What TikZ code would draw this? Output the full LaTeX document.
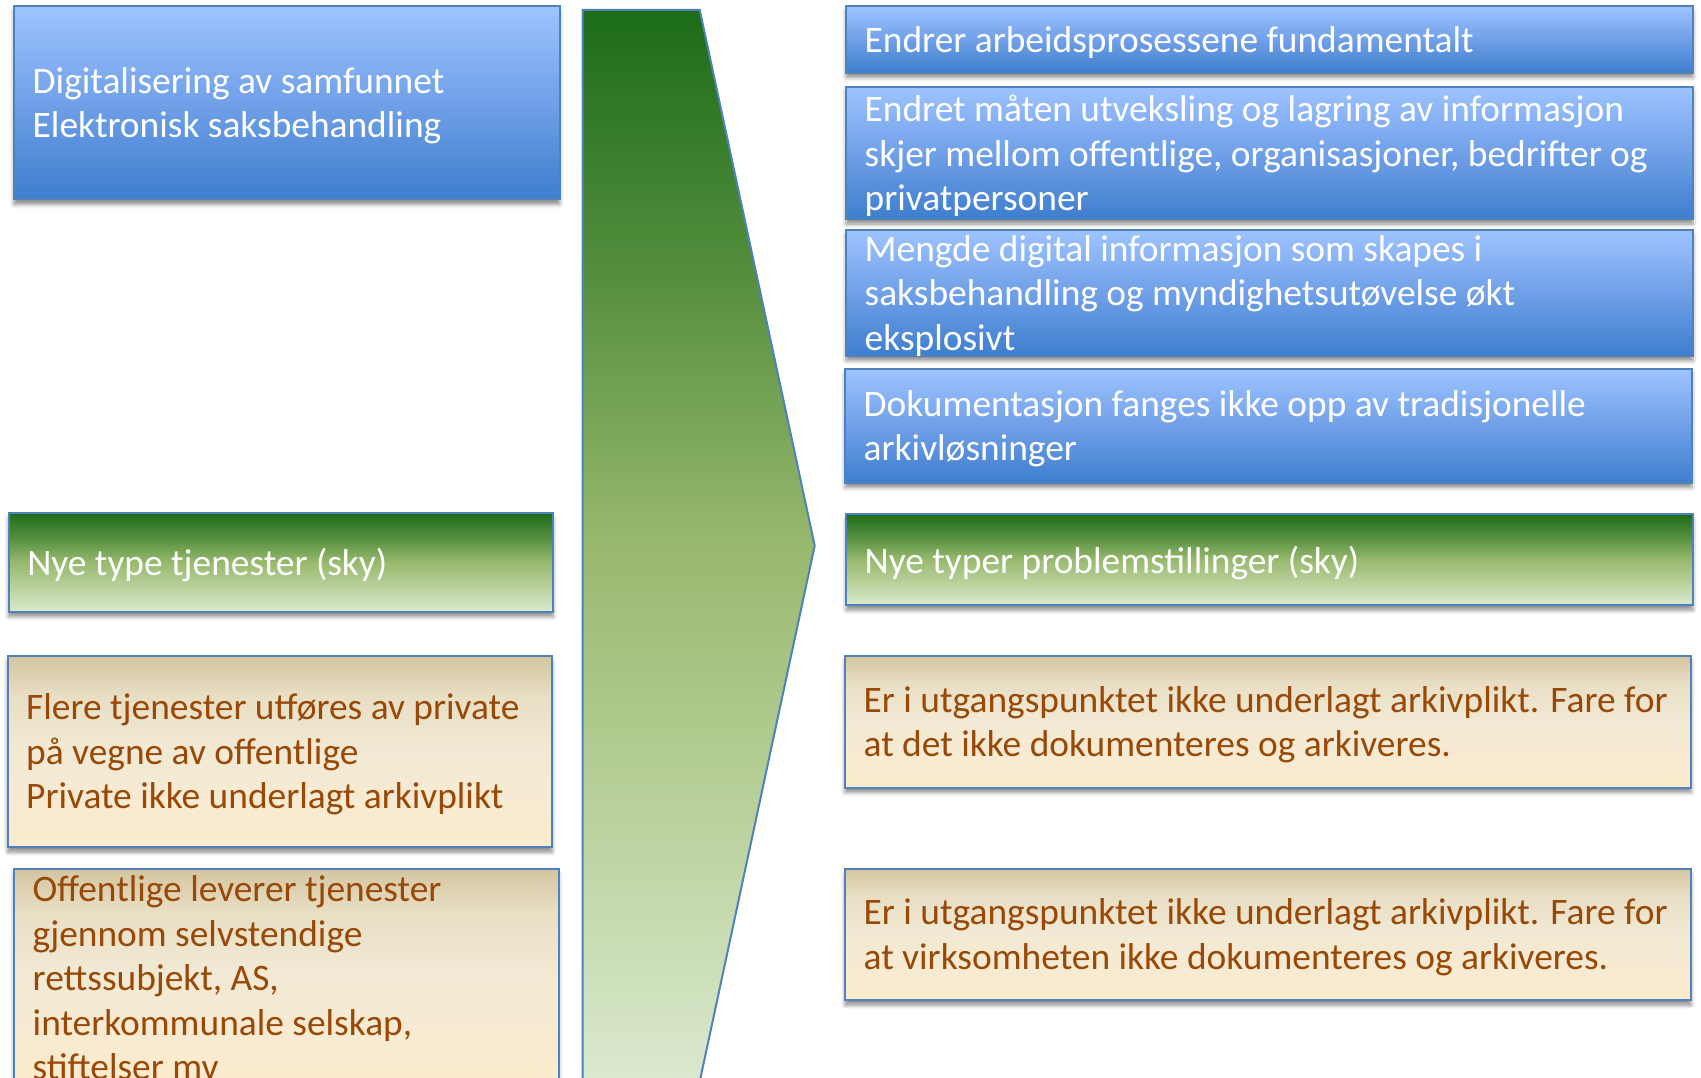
\documentclass[tikz,border=0pt]{standalone}
\usepackage{fontspec}
\setmainfont{Carlito}
\usetikzlibrary{shadows.blur}
\definecolor{edge}{RGB}{79,129,189}
\definecolor{bluetop}{RGB}{158,195,255}
\definecolor{bluemid}{RGB}{112,160,232}
\definecolor{bluebot}{RGB}{62,126,206}
\definecolor{gtop}{RGB}{28,108,24}
\definecolor{gq}{RGB}{85,143,62}
\definecolor{gmid}{RGB}{152,185,110}
\definecolor{g3q}{RGB}{186,209,156}
\definecolor{gbot}{RGB}{219,233,207}
\definecolor{ttop}{RGB}{212,197,160}
\definecolor{tq}{RGB}{232,222,196}
\definecolor{tmid}{RGB}{242,234,213}
\definecolor{tbot}{RGB}{252,235,206}
\definecolor{brown}{RGB}{152,72,7}
\pgfdeclareverticalshading{blueshade}{100bp}{color(0bp)=(bluebot); color(25bp)=(bluebot); color(50bp)=(bluemid); color(75bp)=(bluetop); color(100bp)=(bluetop)}
\pgfdeclareverticalshading{greenshade}{100bp}{color(0bp)=(gbot); color(25bp)=(gbot); color(37.5bp)=(g3q); color(50bp)=(gmid); color(62.5bp)=(gq); color(75bp)=(gtop); color(100bp)=(gtop)}
\pgfdeclareverticalshading{tanshade}{100bp}{color(0bp)=(tbot); color(25bp)=(tbot); color(50bp)=(tmid); color(65bp)=(tq); color(75bp)=(ttop); color(100bp)=(ttop)}
\tikzset{
  basebox/.style={draw=edge, line width=2pt, rectangle, anchor=north west, inner sep=0pt,
    blur shadow={shadow xshift=0pt, shadow yshift=-5pt, shadow blur radius=4pt, shadow opacity=45}},
  bluebox/.style={basebox, shading=blueshade},
  greenbox/.style={basebox, shading=greenshade},
  tanbox/.style={basebox, shading=tanshade},
  txt/.style={anchor=west, align=left, inner sep=0pt, yshift=-3pt, font=\fontsize{37.4}{44.5}\selectfont},
  wtxt/.style={txt, text=white},
  btxt/.style={txt, text=brown},
}
\begin{document}
\begin{tikzpicture}[x=1pt,y=-1pt]
\useasboundingbox (0,0) rectangle (1701,1078);
% central arrow
\shade[shading=greenshade, draw=edge, line width=2pt]
  (582.5,9.8) -- (699.7,9.8) -- (814.7,545.7) -- (699.7,1081.6) -- (582.5,1081.6) -- cycle;
% left column
\node[bluebox, minimum width=545.7pt, minimum height=193.1pt] (l1) at (13,5.4) {};
\node[wtxt] (t1) at ([xshift=19.5pt]l1.west) {Digitalisering av samfunnet\\Elektronisk saksbehandling};
\node[greenbox, minimum width=544.6pt, minimum height=98.7pt] (l2) at (7.6,512.0) {};
\node[wtxt] (t2) at ([xshift=19.5pt]l2.west) {Nye type tjenester (sky)};
\node[tanbox, minimum width=544.6pt, minimum height=190.9pt] (l3) at (6.5,655.2) {};
\node[btxt] (t3) at ([xshift=19.5pt]l3.west) {Flere tjenester utføres av private\\på vegne av offentlige\\Private ikke underlagt arkivplikt};
\node[tanbox, minimum width=544.6pt, minimum height=212pt] (l4) at (13,867.8) {};
\node[btxt] (t4) at ([xshift=19.5pt]l4.west) {Offentlige leverer tjenester\\gjennom selvstendige\\rettssubjekt, AS,\\interkommunale selskap,\\stiftelser mv};
% right column
\node[bluebox, minimum width=847pt, minimum height=66.2pt] (r1) at (845,5.4) {};
\node[wtxt] (s1) at ([xshift=19.5pt]r1.west) {Endrer arbeidsprosessene fundamentalt};
\node[bluebox, minimum width=847pt, minimum height=132.3pt] (r2) at (845,85.7) {};
\node[wtxt] (s2) at ([xshift=19.5pt]r2.west) {Endret måten utveksling og lagring av informasjon\\skjer mellom offentlige, organisasjoner, bedrifter og\\privatpersoner};
\node[bluebox, minimum width=847pt, minimum height=125.8pt] (r3) at (845,228.9) {};
\node[wtxt] (s3) at ([xshift=19.5pt]r3.west) {Mengde digital informasjon som skapes i\\saksbehandling og myndighetsutøvelse økt\\eksplosivt};
\node[bluebox, minimum width=847pt, minimum height=113.9pt] (r4) at (844,367.7) {};
\node[wtxt] (s4) at ([xshift=19.5pt]r4.west) {Dokumentasjon fanges ikke opp av tradisjonelle\\arkivløsninger};
\node[greenbox, minimum width=847pt, minimum height=91.1pt] (r5) at (845,513.1) {};
\node[wtxt] (s5) at ([xshift=19.5pt]r5.west) {Nye typer problemstillinger (sky)};
\node[tanbox, minimum width=846pt, minimum height=131.3pt] (r6) at (844,655.2) {};
\node[btxt] (s6) at ([xshift=19.5pt]r6.west) {Er i utgangspunktet ikke underlagt arkivplikt. Fare for\\at det ikke dokumenteres og arkiveres.};
\node[tanbox, minimum width=846pt, minimum height=131.3pt] (r7) at (844,867.8) {};
\node[btxt] (s7) at ([xshift=19.5pt]r7.west) {Er i utgangspunktet ikke underlagt arkivplikt. Fare for\\at virksomheten ikke dokumenteres og arkiveres.};
\end{tikzpicture}
\end{document}
